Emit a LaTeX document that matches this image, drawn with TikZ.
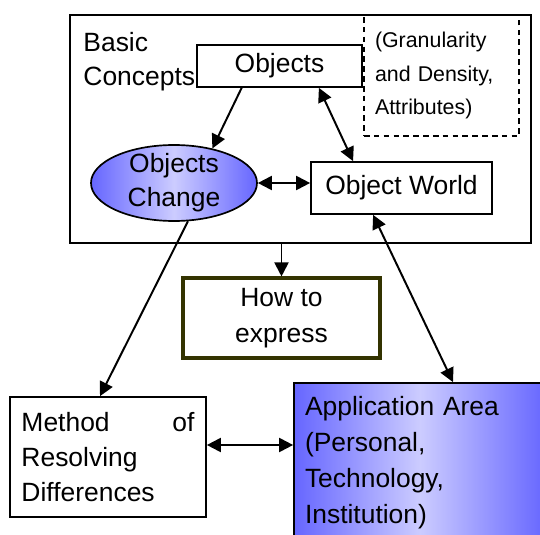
\documentclass[tikz,border=0pt]{standalone}
\usepackage{fontspec}
\setmainfont{Liberation Sans}
\usetikzlibrary{arrows.meta,shapes.geometric}

\definecolor{paleblue}{RGB}{204,204,255}
\definecolor{deepblue}{RGB}{102,102,255}
\definecolor{darkolive}{RGB}{51,51,0}

\begin{document}
\begin{tikzpicture}[
  box/.style={draw, line width=1.2pt, inner sep=0pt},
  arr/.style={line width=1.4pt, -{Triangle[length=3.5mm,width=3.5mm]}},
  dbl/.style={line width=1.4pt, {Triangle[length=3.5mm,width=3.5mm]}-{Triangle[length=3.5mm,width=3.5mm]}},
  bluefill/.style={left color=deepblue, right color=deepblue, middle color=paleblue},
  big/.style={font=\fontsize{18.8}{24}\selectfont},
  small/.style={font=\fontsize{15.2}{24}\selectfont}
]
\clip (0,0) rectangle (13.5,13.35);
\node[box, minimum width=11.525cm, minimum height=5.7cm] (concepts) at (7.5125,10.125) {};
\node[big, anchor=north west, inner sep=0pt, align=left] (basic) at ([xshift=0.35cm,yshift=-0.45cm]concepts.north west) {Basic\\Concepts};
\node[box, dash pattern=on 4pt off 3pt, small, minimum width=3.875cm, minimum height=3.025cm, text width=3.325cm, align=left] (extra) at (11.0375,11.4625) {(Granularity\\and Density,\\Attributes)};
\node[box, big, minimum width=4.125cm, minimum height=1.05cm] (objects) at (6.9875,11.7) {Objects};
\node[draw, ellipse, line width=1.2pt, bluefill, big, align=center, inner xsep=0pt, inner ysep=-5pt, minimum width=4.15cm, minimum height=1.9cm] (change) at (4.35,8.775) {Objects\\Change};
\node[box, big, minimum width=4.525cm, minimum height=1.3cm] (world) at (10.0375,8.65) {Object World};
\node[draw=darkolive, line width=2.2pt, inner sep=0pt, font=\fontsize{18.8}{26}\selectfont, align=center, minimum width=4.925cm, minimum height=2cm] (how) at (7.0375,5.4) {How to\\express};
\node[box, font=\fontsize{18.8}{25}\selectfont, minimum width=4.9cm, minimum height=3cm, text width=4.325cm, align=left] (method) at (2.7,1.925) {Method\hfill of\\Resolving\\Differences};
\node[box, bluefill, font=\fontsize{18.8}{25.5}\selectfont, minimum width=6.3cm, minimum height=3.975cm, text width=5.75cm, align=left] (app) at (10.5,1.7875) {Application Area\\(Personal,\\Technology,\\Institution)};
\draw[arr] (objects.-150) -- (change.42);
\draw[dbl] (objects.-29) -- (world.151);
\draw[dbl] (change.east) -- (change.east -| world.west);
\draw[arr] (how.north |- concepts.south) -- (how.north);
\draw[arr] (change.-70) -- ([xshift=-0.2cm]method.north);
\draw[dbl] ([xshift=-0.71cm]world.south) -- ([xshift=0.825cm]app.north);
\draw[dbl] ([yshift=0.3cm]method.east) -- ([yshift=0.3cm]method.east -| app.west);
\end{tikzpicture}
\end{document}
